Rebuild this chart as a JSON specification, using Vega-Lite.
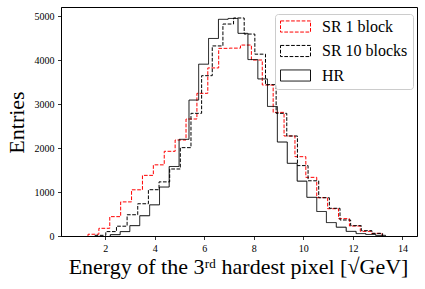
{
  "$schema": "https://vega.github.io/schema/vega-lite/v6.json",
  "width": 356,
  "height": 229,
  "autosize": "none",
  "padding": {"left": 61, "top": 7, "right": 8, "bottom": 53},
  "background": "white",
  "config": {
    "view": {"stroke": "black", "strokeWidth": 1},
    "font": "Liberation Serif",
    "axis": {
      "grid": false,
      "domainColor": "black",
      "domainWidth": 0.8,
      "tickColor": "black",
      "tickWidth": 0.8,
      "tickSize": 3.5,
      "labelPadding": 3.5,
      "labelFontSize": 10,
      "labelFont": "Liberation Serif",
      "labelColor": "black",
      "titleFont": "Liberation Serif",
      "titleFontSize": 22,
      "titleFontWeight": "normal",
      "titleColor": "black"
    },
    "legend": {
      "symbolType": "M-1,-0.37H1V0.37H-1Z",
      "symbolSize": 900,
      "symbolStrokeWidth": 1,
      "symbolFillColor": "transparent",
      "labelFont": "Liberation Serif",
      "labelFontSize": 16,
      "labelColor": "black",
      "labelOffset": 11,
      "padding": 5,
      "rowPadding": 7.5,
      "clipHeight": 15,
      "fillColor": "rgba(255,255,255,0.8)",
      "strokeColor": "#cccccc",
      "cornerRadius": 3
    }
  },
  "data": {
    "values": [
      {"s": "SR 1 block", "k": 0, "x": 1.30, "y": 0},
      {"s": "SR 1 block", "k": 1, "x": 1.30, "y": 40},
      {"s": "SR 1 block", "k": 2, "x": 1.74, "y": 175},
      {"s": "SR 1 block", "k": 3, "x": 2.18, "y": 440},
      {"s": "SR 1 block", "k": 4, "x": 2.62, "y": 775},
      {"s": "SR 1 block", "k": 5, "x": 3.06, "y": 1050},
      {"s": "SR 1 block", "k": 6, "x": 3.50, "y": 1378},
      {"s": "SR 1 block", "k": 7, "x": 3.94, "y": 1617},
      {"s": "SR 1 block", "k": 8, "x": 4.38, "y": 1925},
      {"s": "SR 1 block", "k": 9, "x": 4.82, "y": 2182},
      {"s": "SR 1 block", "k": 10, "x": 5.26, "y": 2659},
      {"s": "SR 1 block", "k": 11, "x": 5.70, "y": 3243},
      {"s": "SR 1 block", "k": 12, "x": 6.14, "y": 3820},
      {"s": "SR 1 block", "k": 13, "x": 6.58, "y": 4265},
      {"s": "SR 1 block", "k": 14, "x": 7.02, "y": 4270},
      {"s": "SR 1 block", "k": 15, "x": 7.46, "y": 4340},
      {"s": "SR 1 block", "k": 16, "x": 7.90, "y": 4000},
      {"s": "SR 1 block", "k": 17, "x": 8.34, "y": 3432},
      {"s": "SR 1 block", "k": 18, "x": 8.78, "y": 2810},
      {"s": "SR 1 block", "k": 19, "x": 9.22, "y": 2273},
      {"s": "SR 1 block", "k": 20, "x": 9.66, "y": 1803},
      {"s": "SR 1 block", "k": 21, "x": 10.10, "y": 1333},
      {"s": "SR 1 block", "k": 22, "x": 10.54, "y": 871},
      {"s": "SR 1 block", "k": 23, "x": 10.98, "y": 620},
      {"s": "SR 1 block", "k": 24, "x": 11.42, "y": 394},
      {"s": "SR 1 block", "k": 25, "x": 11.86, "y": 227},
      {"s": "SR 1 block", "k": 26, "x": 12.30, "y": 106},
      {"s": "SR 1 block", "k": 27, "x": 12.74, "y": 60},
      {"s": "SR 1 block", "k": 28, "x": 13.18, "y": 0},

      {"s": "SR 10 blocks", "k": 0, "x": 1.59, "y": 0},
      {"s": "SR 10 blocks", "k": 1, "x": 1.59, "y": 15},
      {"s": "SR 10 blocks", "k": 2, "x": 2.02, "y": 100},
      {"s": "SR 10 blocks", "k": 3, "x": 2.45, "y": 223},
      {"s": "SR 10 blocks", "k": 4, "x": 2.88, "y": 483},
      {"s": "SR 10 blocks", "k": 5, "x": 3.31, "y": 733},
      {"s": "SR 10 blocks", "k": 6, "x": 3.74, "y": 1052},
      {"s": "SR 10 blocks", "k": 7, "x": 4.17, "y": 1230},
      {"s": "SR 10 blocks", "k": 8, "x": 4.60, "y": 1523},
      {"s": "SR 10 blocks", "k": 9, "x": 5.03, "y": 2008},
      {"s": "SR 10 blocks", "k": 10, "x": 5.46, "y": 2788},
      {"s": "SR 10 blocks", "k": 11, "x": 5.89, "y": 3644},
      {"s": "SR 10 blocks", "k": 12, "x": 6.32, "y": 4320},
      {"s": "SR 10 blocks", "k": 13, "x": 6.75, "y": 4818},
      {"s": "SR 10 blocks", "k": 14, "x": 7.18, "y": 4955},
      {"s": "SR 10 blocks", "k": 15, "x": 7.61, "y": 4590},
      {"s": "SR 10 blocks", "k": 16, "x": 8.04, "y": 4133},
      {"s": "SR 10 blocks", "k": 17, "x": 8.47, "y": 3440},
      {"s": "SR 10 blocks", "k": 18, "x": 8.90, "y": 2788},
      {"s": "SR 10 blocks", "k": 19, "x": 9.33, "y": 2273},
      {"s": "SR 10 blocks", "k": 20, "x": 9.76, "y": 1600},
      {"s": "SR 10 blocks", "k": 21, "x": 10.19, "y": 1255},
      {"s": "SR 10 blocks", "k": 22, "x": 10.62, "y": 870},
      {"s": "SR 10 blocks", "k": 23, "x": 11.05, "y": 630},
      {"s": "SR 10 blocks", "k": 24, "x": 11.48, "y": 364},
      {"s": "SR 10 blocks", "k": 25, "x": 11.91, "y": 235},
      {"s": "SR 10 blocks", "k": 26, "x": 12.34, "y": 121},
      {"s": "SR 10 blocks", "k": 27, "x": 12.77, "y": 60},
      {"s": "SR 10 blocks", "k": 28, "x": 13.20, "y": 0},

      {"s": "HR", "k": 0, "x": 2.20, "y": 0},
      {"s": "HR", "k": 1, "x": 2.20, "y": 30},
      {"s": "HR", "k": 2, "x": 2.60, "y": 100},
      {"s": "HR", "k": 3, "x": 2.99, "y": 235},
      {"s": "HR", "k": 4, "x": 3.39, "y": 460},
      {"s": "HR", "k": 5, "x": 3.79, "y": 708},
      {"s": "HR", "k": 6, "x": 4.19, "y": 1113},
      {"s": "HR", "k": 7, "x": 4.58, "y": 1580},
      {"s": "HR", "k": 8, "x": 4.98, "y": 2197},
      {"s": "HR", "k": 9, "x": 5.38, "y": 3090},
      {"s": "HR", "k": 10, "x": 5.77, "y": 3905},
      {"s": "HR", "k": 11, "x": 6.17, "y": 4490},
      {"s": "HR", "k": 12, "x": 6.57, "y": 4925},
      {"s": "HR", "k": 13, "x": 6.96, "y": 4945},
      {"s": "HR", "k": 14, "x": 7.36, "y": 4606},
      {"s": "HR", "k": 15, "x": 7.76, "y": 4010},
      {"s": "HR", "k": 16, "x": 8.16, "y": 3570},
      {"s": "HR", "k": 17, "x": 8.55, "y": 2945},
      {"s": "HR", "k": 18, "x": 8.95, "y": 2136},
      {"s": "HR", "k": 19, "x": 9.35, "y": 1652},
      {"s": "HR", "k": 20, "x": 9.75, "y": 1247},
      {"s": "HR", "k": 21, "x": 10.14, "y": 879},
      {"s": "HR", "k": 22, "x": 10.54, "y": 557},
      {"s": "HR", "k": 23, "x": 10.93, "y": 305},
      {"s": "HR", "k": 24, "x": 11.33, "y": 200},
      {"s": "HR", "k": 25, "x": 11.73, "y": 105},
      {"s": "HR", "k": 26, "x": 12.13, "y": 55},
      {"s": "HR", "k": 27, "x": 12.52, "y": 35},
      {"s": "HR", "k": 28, "x": 12.92, "y": 15},
      {"s": "HR", "k": 29, "x": 13.32, "y": 0}
    ]
  },
  "mark": {"type": "line", "interpolate": "step-after", "strokeWidth": 1, "clip": true},
  "encoding": {
    "x": {
      "field": "x",
      "type": "quantitative",
      "scale": {"domain": [0.21, 14.59], "nice": false, "zero": false},
      "axis": {
        "values": [2, 4, 6, 8, 10, 12, 14],
        "format": "d",
        "title": "Energy of the 3ʳᵈ hardest pixel [√GeV]",
        "titleX": 177,
        "titleY": 37,
        "titleAlign": "center",
        "titleBaseline": "alphabetic"
      }
    },
    "y": {
      "field": "y",
      "type": "quantitative",
      "scale": {"domain": [0, 5205], "nice": false},
      "axis": {
        "values": [0, 1000, 2000, 3000, 4000, 5000],
        "format": "d",
        "title": "Entries",
        "titleX": -37.5,
        "titleY": 115,
        "titleAngle": -90,
        "titleAlign": "center",
        "titleBaseline": "alphabetic"
      }
    },
    "color": {
      "field": "s",
      "type": "nominal",
      "scale": {"domain": ["SR 1 block", "SR 10 blocks", "HR"], "range": ["#ff0000", "#000000", "#000000"]},
      "legend": {"title": null, "orient": "none", "legendX": 214, "legendY": 7}
    },
    "strokeDash": {
      "field": "s",
      "type": "nominal",
      "scale": {"domain": ["SR 1 block", "SR 10 blocks", "HR"], "range": [[3.7, 1.6], [3.7, 1.6], [1, 0]]},
      "legend": {"title": null, "orient": "none", "legendX": 214, "legendY": 7}
    },
    "order": {"field": "k", "type": "quantitative"}
  }
}
